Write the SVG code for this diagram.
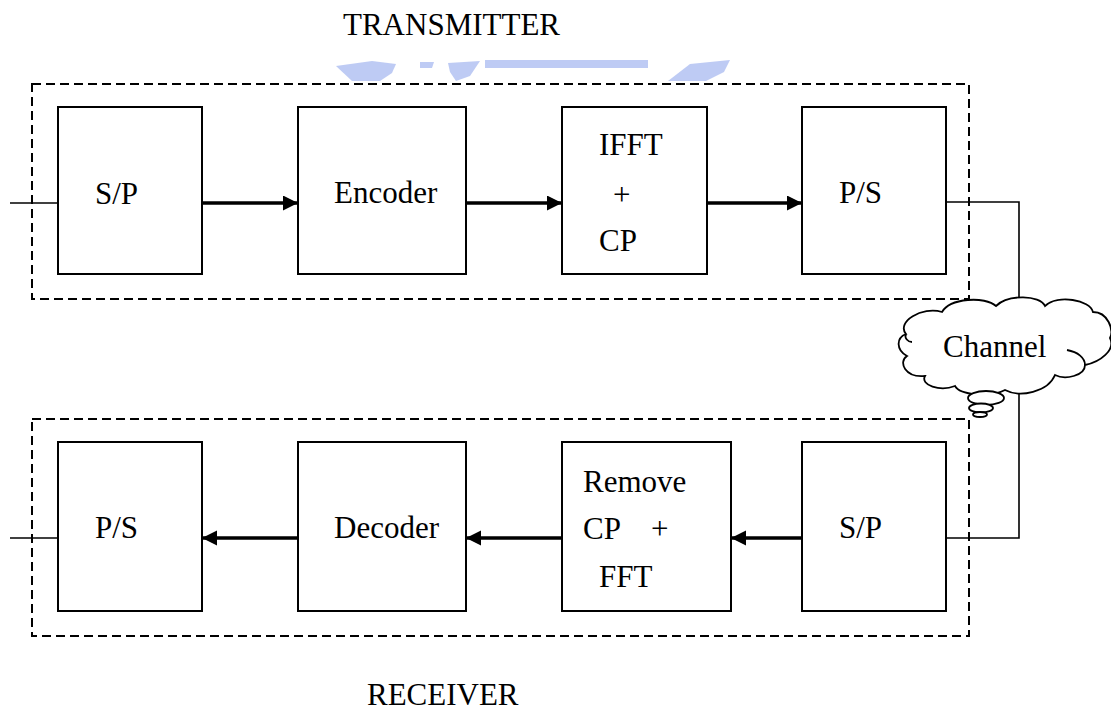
<svg xmlns="http://www.w3.org/2000/svg" width="1111" height="711" viewBox="0 0 1111 711">
<style>
.box{fill:#fff;stroke:#000;stroke-width:2}
.dash{fill:none;stroke:#000;stroke-width:2;stroke-dasharray:9 5}
.t{font-family:'Liberation Serif','DejaVu Serif',serif;font-size:31px;fill:#000}
.arr{stroke:#000;stroke-width:3.5;fill:none;marker-end:url(#ah)}
.ln{stroke:#000;stroke-width:1.6;fill:none}
.wm{fill:#93a8ec;opacity:0.6}
</style>
<defs>
<marker id="ah" markerUnits="userSpaceOnUse" markerWidth="16" markerHeight="16" refX="15" refY="7.5" orient="auto">
<path d="M0,0 L15,7.5 L0,15 Z" fill="#000"/>
</marker>
</defs>
<rect width="1111" height="711" fill="#fff"/>
<g id="watermark">
<polygon class="wm" points="336,66 372,61 396,64 392,73 380,81 352,81"/>
<polygon class="wm" points="420,62 434,62 432,68 420,68"/>
<polygon class="wm" points="448,63 480,61 470,76 456,81 450,72"/>
<rect class="wm" x="485" y="60" width="163" height="8"/>
<polygon class="wm" points="668,81 690,64 730,60 724,72 706,81"/>
</g>
<g id="titles">
<text class="t" x="343" y="35">TRANSMITTER</text>
<text class="t" x="367" y="705">RECEIVER</text>
</g>
<g id="transmitter">
<rect class="dash" x="32" y="84" width="937" height="215"/>
</g>
<g id="receiver">
<rect class="dash" x="32" y="419" width="937" height="217"/>
</g>
<g id="connectors">
<line class="ln" x1="10" y1="203" x2="58" y2="203"/>
<line class="arr" x1="202" y1="203" x2="298" y2="203"/>
<line class="arr" x1="466" y1="203" x2="562" y2="203"/>
<line class="arr" x1="707" y1="203" x2="802" y2="203"/>
<polyline class="ln" points="946,202 1019,202 1019,300"/>
<polyline class="ln" points="1019,392 1019,538 946,538"/>
<line class="arr" x1="802" y1="538" x2="731" y2="538"/>
<line class="arr" x1="562" y1="538" x2="466" y2="538"/>
<line class="arr" x1="298" y1="538" x2="202" y2="538"/>
<line class="ln" x1="10" y1="538" x2="58" y2="538"/>
</g>
<g id="tx-sp"><rect class="box" x="58" y="107" width="144" height="167"/><text class="t" x="95" y="204">S/P</text></g>
<g id="tx-enc"><rect class="box" x="298" y="107" width="168" height="167"/><text class="t" x="334" y="203">Encoder</text></g>
<g id="tx-ifft"><rect class="box" x="562" y="107" width="145" height="167"/><text class="t" x="599" y="155">IFFT</text><text class="t" x="613" y="205">+</text><text class="t" x="599" y="251">CP</text></g>
<g id="tx-ps"><rect class="box" x="802" y="107" width="144" height="167"/><text class="t" x="839" y="203">P/S</text></g>
<g id="rx-ps"><rect class="box" x="58" y="442" width="144" height="169"/><text class="t" x="95" y="538">P/S</text></g>
<g id="rx-dec"><rect class="box" x="298" y="442" width="168" height="169"/><text class="t" x="334" y="538">Decoder</text></g>
<g id="rx-fft"><rect class="box" x="562" y="442" width="169" height="169"/><text class="t" x="583" y="492">Remove</text><text class="t" x="583" y="539">CP</text><text class="t" x="651" y="539">+</text><text class="t" x="599" y="587">FFT</text></g>
<g id="rx-sp"><rect class="box" x="802" y="442" width="144" height="169"/><text class="t" x="839" y="538">S/P</text></g>
<g id="channel">
<path fill="#fff" stroke="#000" stroke-width="1.8" d="M906,334 C896,322 922,306 942,312 C950,298 985,296 996,306 C1008,294 1040,295 1045,306 C1058,294 1090,300 1093,312 C1108,312 1114,330 1110,338 C1116,350 1100,362 1085,365 C1085,376 1065,380 1055,375 C1048,392 1020,398 1005,390 C990,398 960,395 955,386 C940,392 920,385 925,376 C905,378 898,362 907,356 C896,350 896,338 906,334 Z"/>
<path fill="none" stroke="#000" stroke-width="1.8" d="M1067,350 C1078,352 1085,358 1085,365"/>
<path fill="none" stroke="#000" stroke-width="1.8" d="M906,334 C904,338 908,342 912,342"/>
<ellipse cx="986" cy="398" rx="18" ry="7" fill="#fff" stroke="#000" stroke-width="1.8"/>
<ellipse cx="981" cy="408" rx="12" ry="4.5" fill="#fff" stroke="#000" stroke-width="1.8"/>
<ellipse cx="980" cy="414.5" rx="7" ry="2.5" fill="#fff" stroke="#000" stroke-width="1.8"/>
<text class="t" x="943" y="357">Channel</text>
</g>
</svg>
